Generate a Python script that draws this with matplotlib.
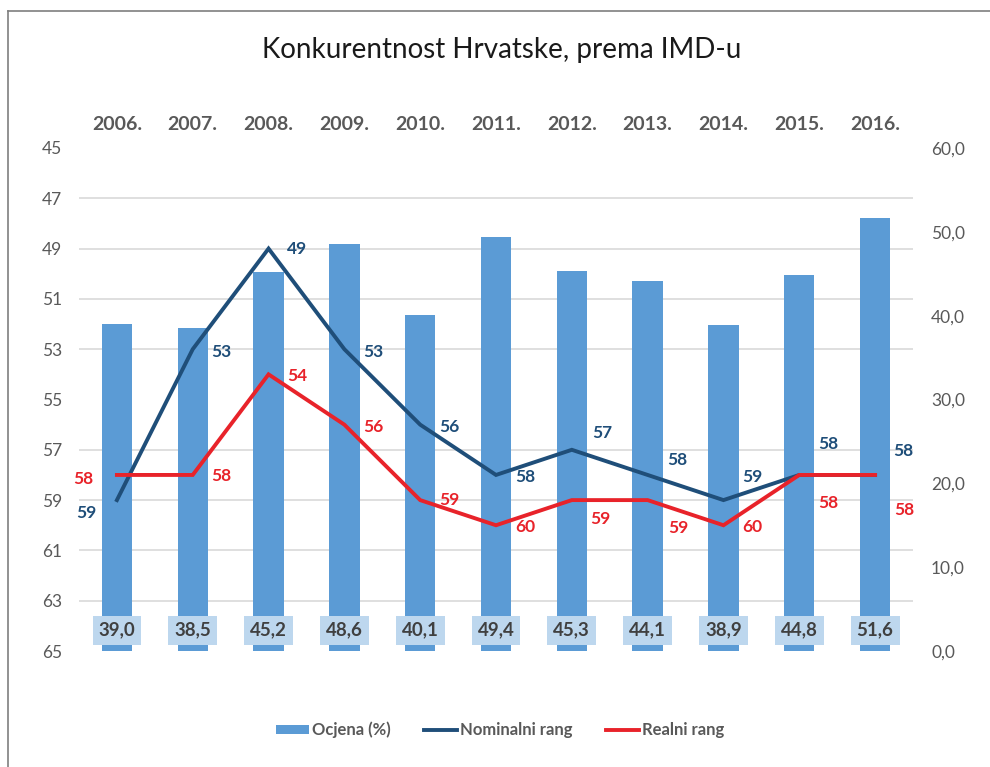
import numpy as np
import matplotlib
matplotlib.use('Agg')
import matplotlib.pyplot as plt
from matplotlib.lines import Line2D

plt.rcParams['font.family'] = ['Lato', 'DejaVu Sans']

godine = ['2006.', '2007.', '2008.', '2009.', '2010.', '2011.',
          '2012.', '2013.', '2014.', '2015.', '2016.']
ocjena = [39.0, 38.5, 45.2, 48.6, 40.1, 49.4, 45.3, 44.1, 38.9, 44.8, 51.6]
nominalni = [59, 53, 49, 53, 56, 58, 57, 58, 59, 58, 58]
realni = [58, 58, 54, 56, 59, 60, 59, 59, 60, 58, 58]

# pomaci oznaka (pikseli) da se ne preklapaju
nom_off = [(-31, -13), (29, -3), (29, 0), (29, -3), (29, -2), (29, -2),
           (30, 17), (30, 15), (29, 23), (29, 31), (28, 24)]
real_off = [(-34, -4), (29, -1), (29, -2), (29, -2), (29, 0), (29, -2),
            (29, -19), (31, -28), (29, -2), (29, -28), (29, -35)]

c_bar = '#5B9BD5'
c_nom = '#1F4E79'
c_real = '#E8232A'
c_txt = '#595959'

fig = plt.figure(figsize=(9.9, 7.67), dpi=100)
ax = fig.add_axes([79/990, 1-651/767, (913-79)/990, (651-148)/767])
ax2 = ax.twinx()
x = np.arange(len(godine))

ax.bar(x, ocjena, width=0.4, color=c_bar, zorder=2)
ax.set_ylim(0, 60)
ax.set_xlim(-0.5, len(godine)-0.5)
ax.yaxis.tick_right()
ax.set_yticks(np.arange(0, 61, 10))
ax.set_yticklabels([f'{v:.1f}'.replace('.', ',') for v in np.arange(0, 61, 10)])
ax.set_yticks(np.arange(0, 61, 6), minor=True)
ax.grid(axis='y', which='minor', color='#D9D9D9', lw=1.2, zorder=0)
ax.tick_params(axis='y', which='both', length=0, labelsize=12.5,
               labelcolor=c_txt, pad=13)
ax.xaxis.tick_top()
ax.set_xticks(x)
ax.set_xticklabels(godine, fontweight='bold')
ax.tick_params(axis='x', length=0, labelsize=14, labelcolor=c_txt, pad=11)
for s in ax.spines.values():
    s.set_visible(False)

for i, v in enumerate(ocjena):
    ax.text(i, 2.5, f'{v:.1f}'.replace('.', ','), ha='center', va='center',
            fontsize=13.5, fontweight='bold', color='#404040', zorder=4,
            bbox=dict(boxstyle='square,pad=0.32', fc='#BDD7EE', ec='none'))

ax2.yaxis.tick_left()
ax2.set_ylim(65, 45)
ax2.set_yticks(np.arange(45, 66, 2))
ax2.tick_params(axis='y', length=0, labelsize=12.5, labelcolor=c_txt, pad=12)
for s in ax2.spines.values():
    s.set_visible(False)

ax2.plot(x, nominalni, color=c_nom, lw=2.8, solid_joinstyle='miter')
ax2.plot(x, realni, color=c_real, lw=2.8, solid_joinstyle='miter')

for i in range(len(godine)):
    ax2.annotate(str(nominalni[i]), (x[i], nominalni[i]), xytext=nom_off[i],
                 textcoords='offset pixels', ha='center', va='center',
                 fontsize=12.5, fontweight='bold', color=c_nom)
    ax2.annotate(str(realni[i]), (x[i], realni[i]), xytext=real_off[i],
                 textcoords='offset pixels', ha='center', va='center',
                 fontsize=12.5, fontweight='bold', color=c_real)

fig.text(0.507, 1-50/767, 'Konkurentnost Hrvatske, prema IMD-u',
         ha='center', va='center', fontsize=20, color='#1a1a1a')

handles = [plt.Rectangle((0, 0), 1, 1, fc=c_bar),
           Line2D([], [], color=c_nom, lw=2.8),
           Line2D([], [], color=c_real, lw=2.8)]
fig.legend(handles, ['Ocjena (%)', 'Nominalni rang', 'Realni rang'],
           loc='center', bbox_to_anchor=(0.505, 1-730/767), ncol=3,
           frameon=False, handlelength=2.0, handleheight=0.5,
           handletextpad=0.15, columnspacing=2.0,
           prop={'size': 12, 'weight': 'bold'}, labelcolor=c_txt)

# okvir (lijevo i gore)
fig.add_artist(Line2D([8/990, 8/990], [0, 1-10.5/767], color='#7F7F7F',
                      lw=1.2, transform=fig.transFigure))
fig.add_artist(Line2D([8/990, 1], [1-10.5/767, 1-10.5/767], color='#7F7F7F',
                      lw=1.2, transform=fig.transFigure))

fig.savefig('out.png', dpi=100)
